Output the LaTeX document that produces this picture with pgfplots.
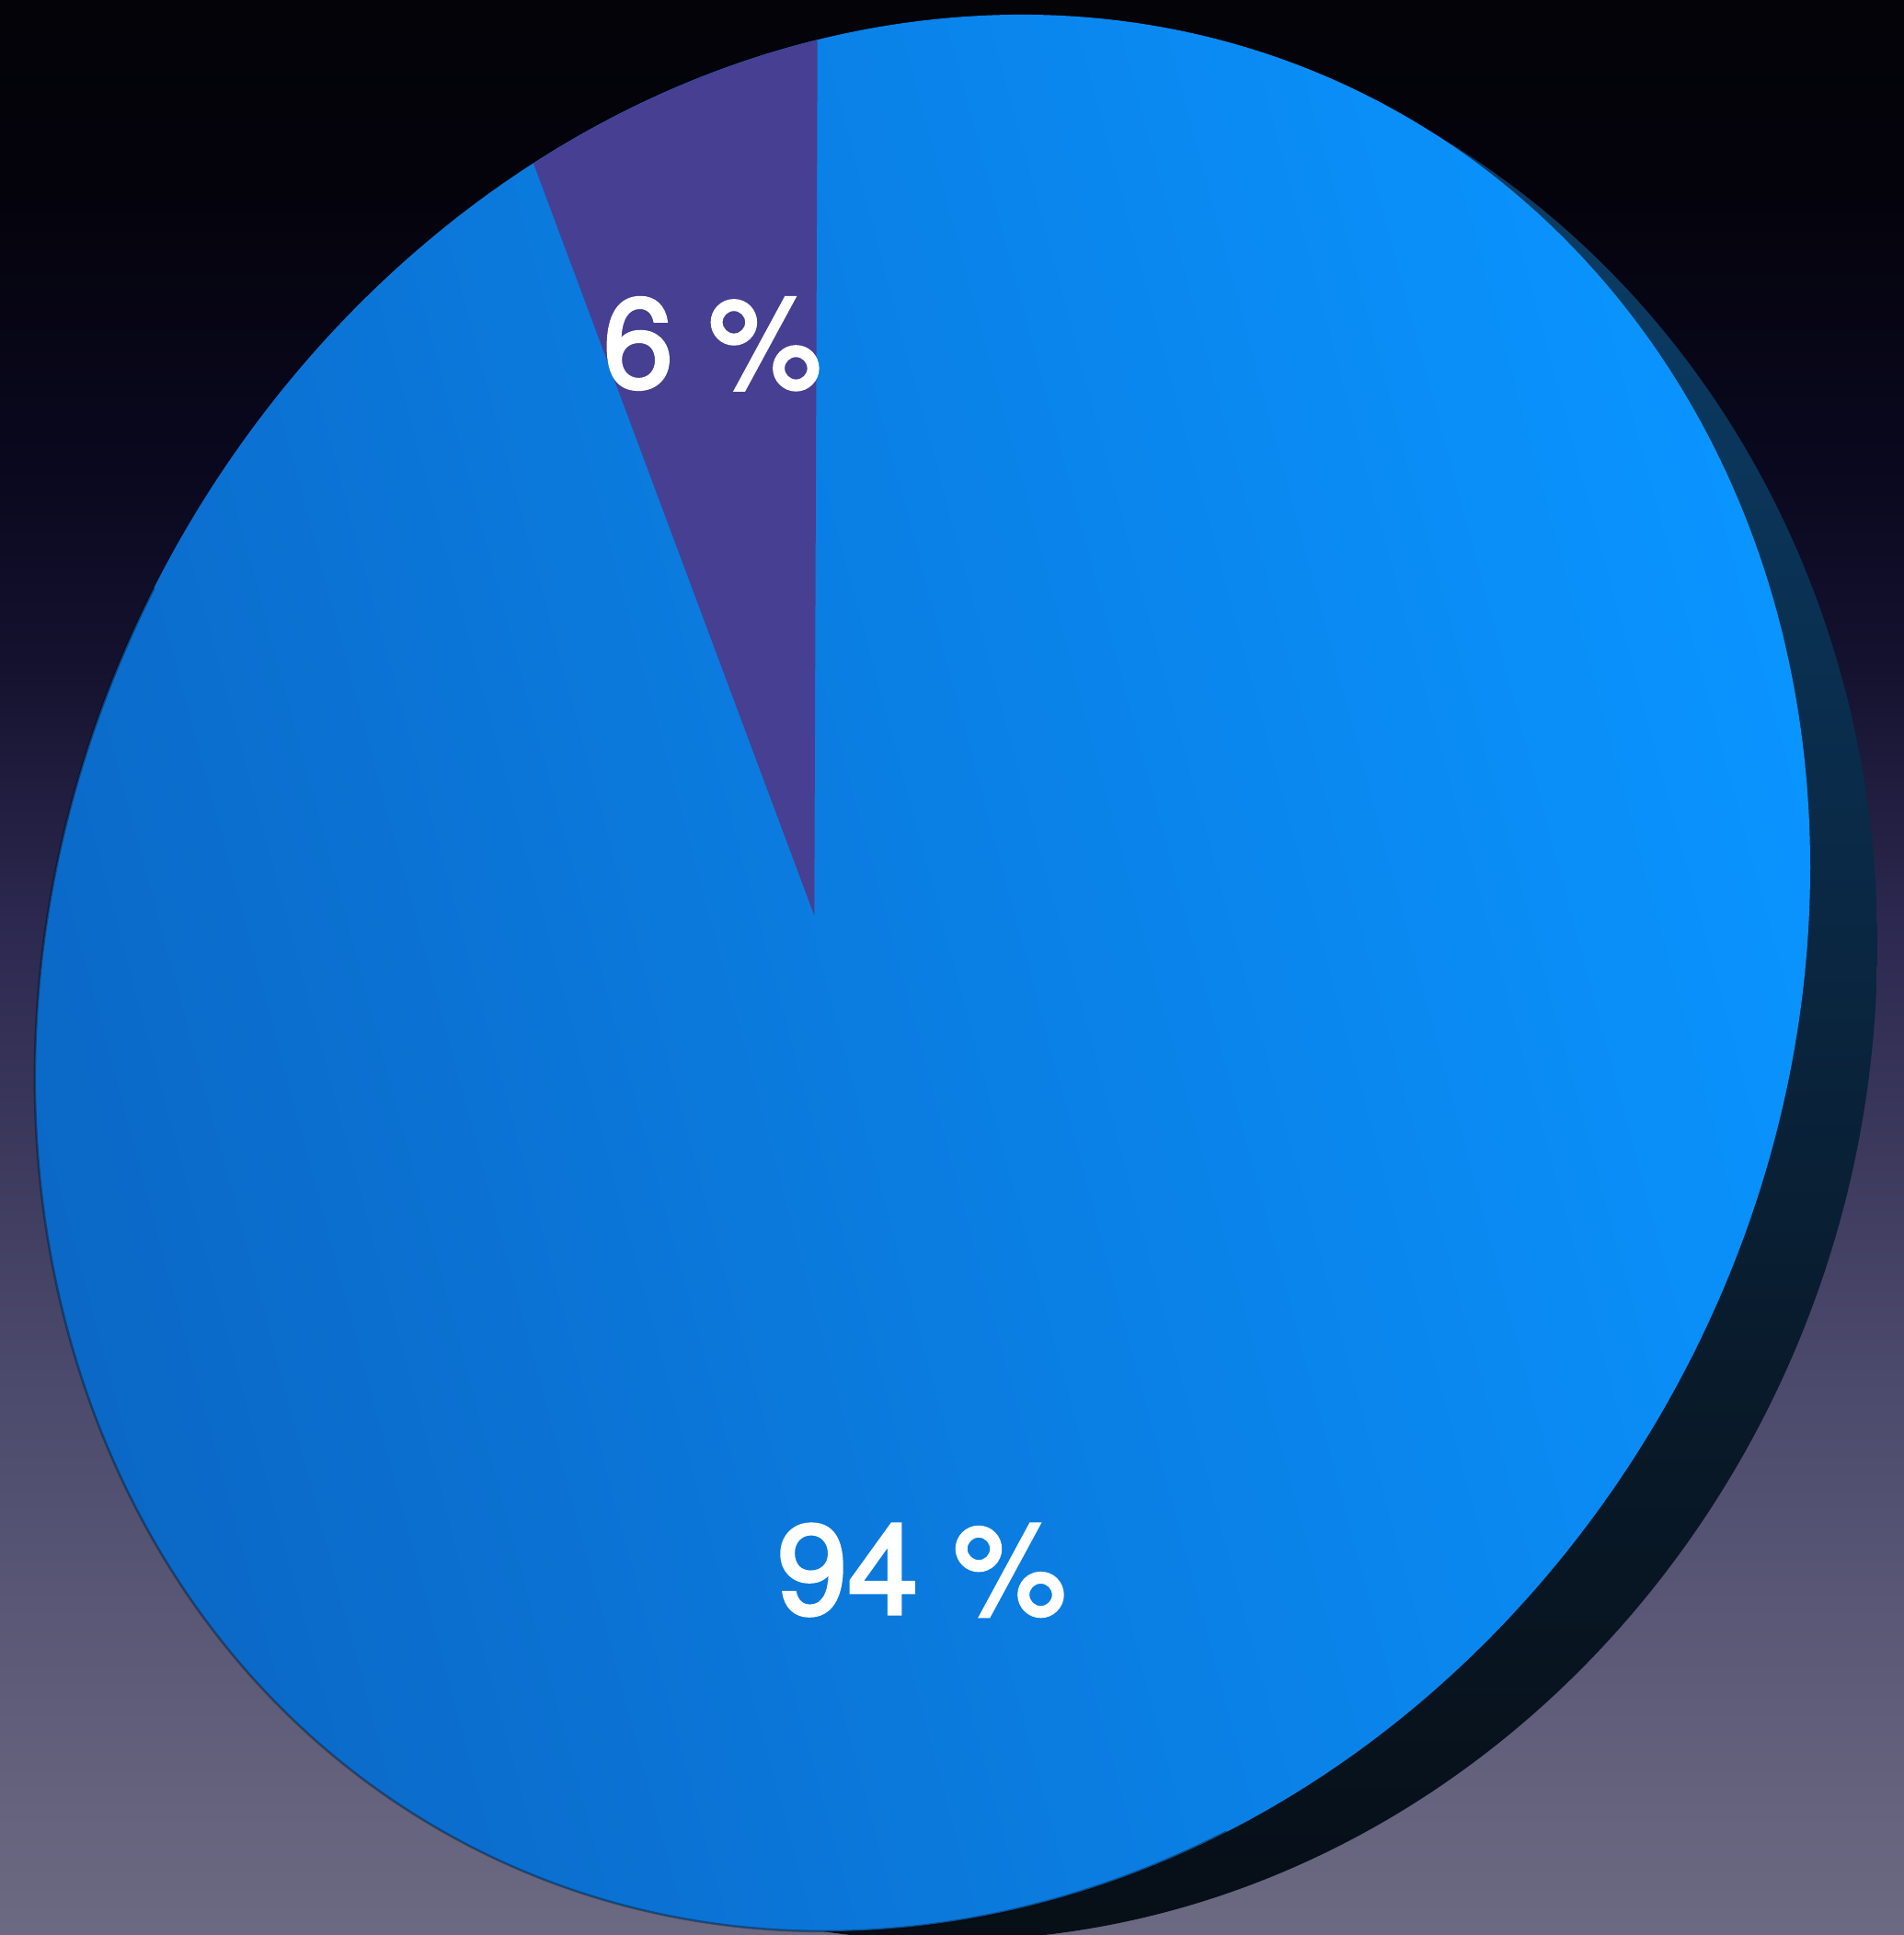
\documentclass[border=0pt]{standalone}
\usepackage{pgfplots}
\pgfplotsset{compat=1.18}
\usepackage{pgfplotstable}
\usepackage{fontspec}
\setmainfont{TeX Gyre Heros}
\newfontfamily\labelfont{TeX Gyre Heros}[FakeBold=2.5]

% shares of the pie, with the place of each label in the disc's own
% (unit circle) coordinates
\pgfplotstableread{
x       y       share
-0.237   0.687  6
-0.001  -0.627  94
}\shares

\definecolor{wedge}{RGB}{70,63,146}
\definecolor{facedark}{RGB}{11,104,198}
\definecolor{facemid}{RGB}{11,125,232}
\definecolor{facelight}{RGB}{10,148,255}

\pgfdeclareverticalshading{bgfade}{100bp}{%
  rgb(0bp)=(0.424,0.416,0.510); rgb(25bp)=(0.424,0.416,0.510);
  rgb(39.35bp)=(0.298,0.290,0.424);
  rgb(51.2bp)=(0.172,0.157,0.310);
  rgb(58bp)=(0.078,0.067,0.180);
  rgb(63bp)=(0.039,0.031,0.118);
  rgb(70bp)=(0.016,0.012,0.047);
  rgb(75bp)=(0.012,0.012,0.031); rgb(100bp)=(0.012,0.012,0.031)}
\pgfdeclareverticalshading{sidefade}{100bp}{%
  rgb(0bp)=(0.027,0.055,0.086); rgb(25.2bp)=(0.027,0.055,0.086);
  rgb(39.6bp)=(0.035,0.102,0.165);
  rgb(54bp)=(0.039,0.165,0.282);
  rgb(68.3bp)=(0.043,0.231,0.388);
  rgb(75bp)=(0.043,0.231,0.388); rgb(100bp)=(0.043,0.231,0.388)}

\begin{document}
\begin{tikzpicture}
% 1 px of the picture = 0.2pt
\useasboundingbox (0pt,0pt) rectangle (414pt,420.8pt);
\clip (0pt,0pt) rectangle (414pt,420.8pt);
\begin{scope}[x=0.2pt, y=0.2pt]
\shade[shading=bgfade] (0,0) rectangle (2070,2104);
% back rim of the disc
\begin{scope}[shift={(1066,1038.5)}]
\shade[shading=sidefade, x={(195pt,7.7pt)}, y={(0pt,208.76pt)}] (0,0) circle[radius=1];
\end{scope}
\end{scope}
\begin{axis}[
  at={(200.6pt,209.2pt)}, anchor=origin,
  x={(193pt,23pt)}, y={(0pt,207.12pt)},
  disabledatascaling,
  xmin=-1.05, xmax=1.05, ymin=-1.05, ymax=1.05,
  hide axis, clip=false,
  /pgf/number format/assume math mode=true,
]
\shade[bottom color=facedark, middle color=facemid, top color=facelight, shading angle=-75]
  (axis cs:0,0) circle[radius=1];
\fill[wedge] (axis cs:-0.122,0.074) -- (axis cs:-0.1184,0.9930)
  arc[start angle=96.8, end angle=116, radius=1] -- cycle;
\draw[black, opacity=0.35, line width=0.5pt, line cap=round] (axis cs:-0.8660,0.5)
  arc[start angle=150, end angle=290, radius=1];
\addplot[only marks, mark=none, point meta=explicit,
  nodes near coords={\pgfmathprintnumber{\pgfplotspointmeta}~\%},
  every node near coord/.append style={anchor=center, inner sep=0pt,
    font=\labelfont\fontsize{27.6}{30}\selectfont, text=white}]
  table[x=x, y=y, meta=share] {\shares};
\end{axis}
\end{tikzpicture}
\end{document}
